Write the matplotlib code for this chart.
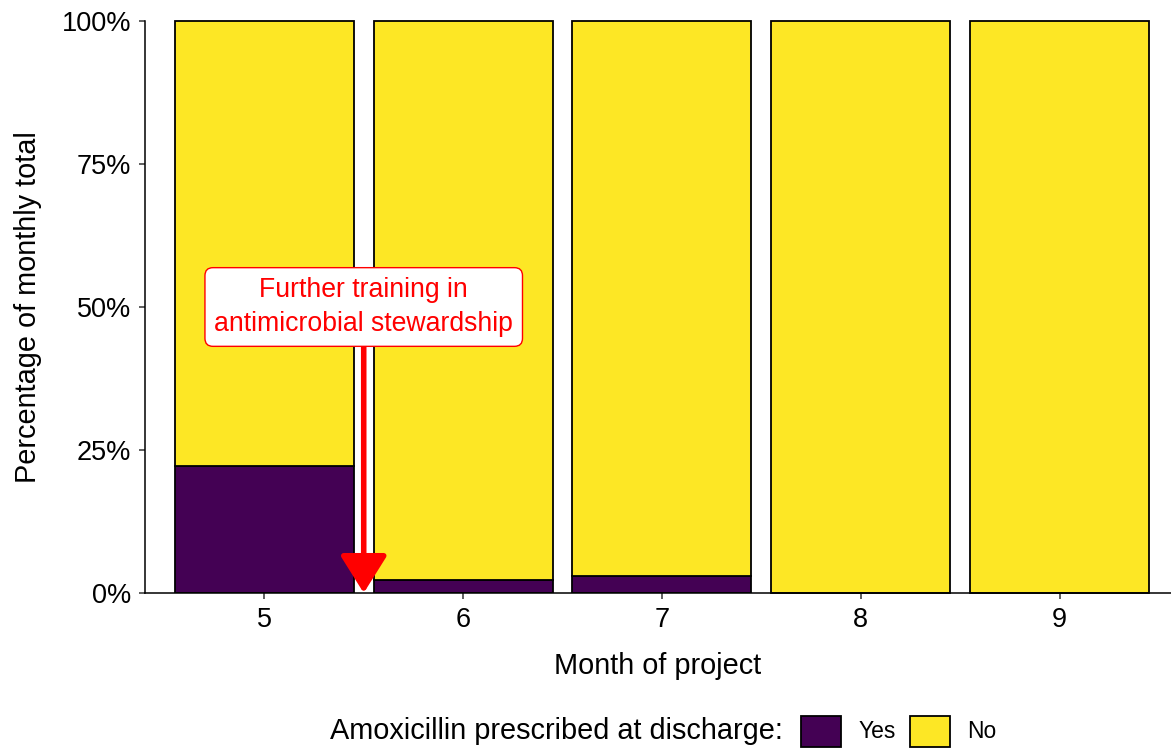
import matplotlib
matplotlib.use("Agg")
import matplotlib.pyplot as plt
from matplotlib.patches import Patch

plt.rcParams['font.family'] = ['Liberation Sans', 'DejaVu Sans']

months = [5, 6, 7, 8, 9]
yes_pct = [22.2, 2.3, 3.0, 0.0, 0.0]
no_pct = [77.8, 97.7, 97.0, 100.0, 100.0]
month_labels = ['5', '6', '7', '8', '9']
y_ticks = [0, 25, 50, 75, 100]
y_tick_labels = ['0%', '25%', '50%', '75%', '100%']

purple = '#440154'
yellow = '#FDE725'

fig = plt.figure(figsize=(11.71, 7.56), dpi=100)
ax = fig.add_axes([145 / 1171, 1 - 593 / 756, 1 - 145 / 1171, (593 - 21) / 756])

ax.bar(months, yes_pct, width=0.9, color=purple, edgecolor='black', linewidth=1.3, zorder=2)
ax.bar(months, no_pct, bottom=yes_pct, width=0.9, color=yellow, edgecolor='black',
       linewidth=1.3, zorder=2, clip_on=False)

ax.set_xlim(4.40, 9.56)
ax.set_ylim(0, 100)
ax.set_xticks(months)
ax.set_xticklabels(month_labels)
ax.set_yticks(y_ticks)
ax.set_yticklabels(y_tick_labels)

for s in ['top', 'right']:
    ax.spines[s].set_visible(False)
for s in ['left', 'bottom']:
    ax.spines[s].set_linewidth(1.1)
    ax.spines[s].set_color('black')
ax.tick_params(axis='both', length=4, width=1.1, color='#333333', labelsize=19.5,
               labelcolor='black', pad=6)

ax.set_xlabel('Month of project', fontsize=20.8, labelpad=14)
ax.set_ylabel('Percentage of monthly total', fontsize=20.8, labelpad=14)

# intervention annotation
ax.annotate('Further training in\nantimicrobial stewardship',
            xy=(5.5, 0), xytext=(5.5, 50), ha='center', va='center',
            fontsize=19.2, color='red', linespacing=1.4, zorder=5,
            bbox=dict(boxstyle='round,pad=0.35,rounding_size=0.3', fc='white', ec='red', lw=1),
            arrowprops=dict(arrowstyle='-|>,head_length=1.2,head_width=0.75', color='red',
                            lw=4, shrinkA=0, shrinkB=0))

# legend
fig.text(783 / 1171, 0.033, 'Amoxicillin prescribed at discharge:', fontsize=20.8,
         ha='right', va='center')
handles = [Patch(facecolor=purple, edgecolor='black', linewidth=1.3, label='Yes'),
           Patch(facecolor=yellow, edgecolor='black', linewidth=1.3, label='No')]
fig.legend(handles=handles, loc='center left', bbox_to_anchor=(801 / 1171, 0.033), ncol=2,
           frameon=False, fontsize=16.5, handlelength=1.75, handleheight=1.7,
           handletextpad=0.74, columnspacing=0.65, borderpad=0, borderaxespad=0)

fig.savefig('out.png', dpi=100)
